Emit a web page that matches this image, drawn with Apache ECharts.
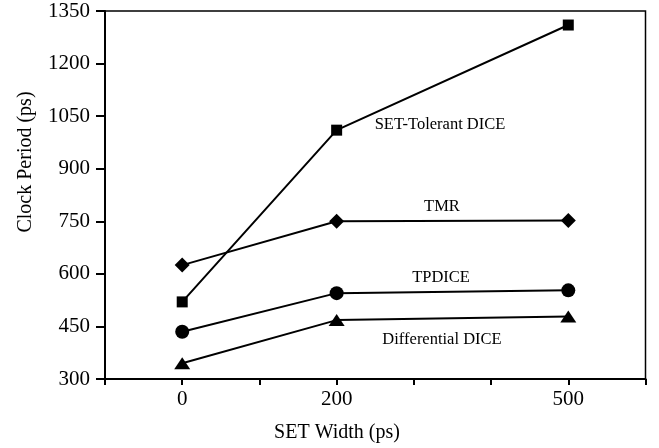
<!DOCTYPE html>
<html>
<head>
<meta charset="utf-8">
<script src="https://cdn.jsdelivr.net/npm/echarts@6/dist/echarts.min.js"></script>
<style>html,body{margin:0;padding:0;background:#fff;}#c{width:659px;height:448px;}</style>
</head>
<body>
<div id="c"></div>
<script>
// x slots (category axis); blank names are unlabeled tick positions
const xSlots = ['', '0', ' ', '200', '  ', '   ', '500', '    '];
const setWidths = ['0', '200', '500'];
const setTolerantDice = [520, 1010, 1310];
const tmr = [625, 750, 752];
const tpdice = [435, 545, 553];
const differentialDice = [345, 468, 478];
const yMin = 300, yMax = 1350, yStep = 150;

const FONT = "'Liberation Serif','Times New Roman',serif";
const chart = echarts.init(document.getElementById('c'), null, {renderer: 'canvas'});

function mk(name, vals, symbol, size) {
  return {
    name: name, type: 'line',
    data: setWidths.map((w, i) => [w, vals[i]]),
    symbol: symbol, symbolSize: size,
    lineStyle: {color: '#000', width: 2},
    itemStyle: {color: '#000'},
    animation: false
  };
}
function txt(t, x, y, size, rot) {
  return {type: 'text', x: x, y: y, rotation: rot || 0,
    style: {text: t, font: size + 'px ' + FONT, fill: '#000', textAlign: 'center', textVerticalAlign: 'middle'}};
}

chart.setOption({
  backgroundColor: '#fff',
  animation: false,
  grid: {left: 105, right: 8, top: 11, bottom: 69, show: true, borderColor: '#000', borderWidth: 1.5},
  xAxis: {
    type: 'category', data: xSlots, boundaryGap: false,
    axisLine: {lineStyle: {color: '#000', width: 2}},
    axisTick: {interval: 0, length: 6, lineStyle: {color: '#000', width: 2}},
    axisLabel: {interval: 0, color: '#000', fontFamily: FONT, fontSize: 21, margin: 10},
    splitLine: {show: false}
  },
  yAxis: {
    type: 'value', min: yMin, max: yMax, interval: yStep,
    axisLine: {show: true, lineStyle: {color: '#000', width: 2}},
    axisTick: {show: true, length: 9, lineStyle: {color: '#000', width: 2}},
    axisLabel: {color: '#000', fontFamily: FONT, fontSize: 21, margin: 15, formatter: v => String(v)},
    splitLine: {show: false}
  },
  graphic: [
    txt('Clock Period (ps)', 26, 162, 20, Math.PI / 2),
    txt('SET Width (ps)', 337, 433, 20),
    txt('SET-Tolerant DICE', 440, 125, 16.5),
    txt('TMR', 442, 207, 16.5),
    txt('TPDICE', 441, 278, 16.5),
    txt('Differential DICE', 442, 340, 16.5)
  ],
  series: [
    mk('SET-Tolerant DICE', setTolerantDice, 'rect', 11),
    mk('TMR', tmr, 'diamond', 15),
    mk('TPDICE', tpdice, 'circle', 14),
    mk('Differential DICE', differentialDice, 'triangle', [16, 12])
  ]
});
</script>
</body>
</html>
